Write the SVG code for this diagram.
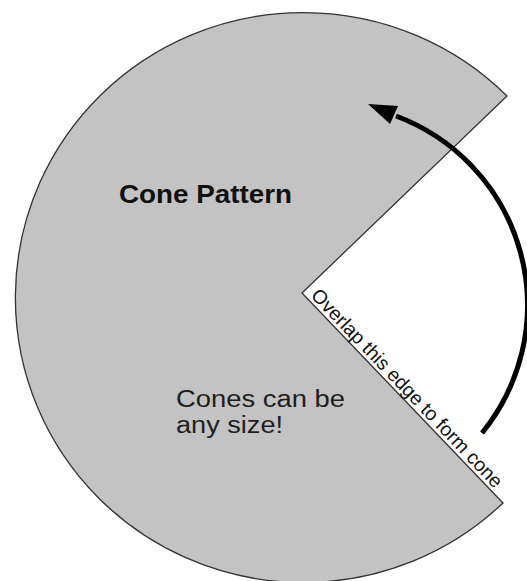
<svg xmlns="http://www.w3.org/2000/svg" width="527" height="581" viewBox="0 0 527 581">
<style>
.pat{fill:#c3c3c3;stroke:#333;stroke-width:1.3;stroke-linejoin:miter}
.t{font-family:"Liberation Sans",Arial,sans-serif;fill:#111}
.n{fill:#1e1e1e}
.arr{fill:none;stroke:#000;stroke-width:5;stroke-linecap:butt}
</style>
<rect width="527" height="581" fill="#fff"/>
<g id="pattern">
<path class="pat" d="M 302 293 L 507 96 A 288 285 0 1 0 503 503 Z"/>
</g>
<g id="title">
<text class="t" x="119" y="203" font-size="26" font-weight="bold" textLength="173" lengthAdjust="spacingAndGlyphs">Cone Pattern</text>
</g>
<g id="note">
<text class="t n" x="176" y="407" font-size="23.5" textLength="169" lengthAdjust="spacingAndGlyphs">Cones can be</text>
<text class="t n" x="176" y="433" font-size="23.5" textLength="107" lengthAdjust="spacingAndGlyphs">any size!</text>
</g>
<g id="edge-label">
<text class="t" transform="translate(302 293) rotate(46.25)" x="8" y="-3.5" font-size="19.5">Overlap this edge to form cone</text>
</g>
<g id="connectors">
<path class="arr" d="M 482 433 A 202 202 0 0 0 396 116"/>
<polygon points="368,104 398,106 390,124" fill="#000"/>
</g>
</svg>
